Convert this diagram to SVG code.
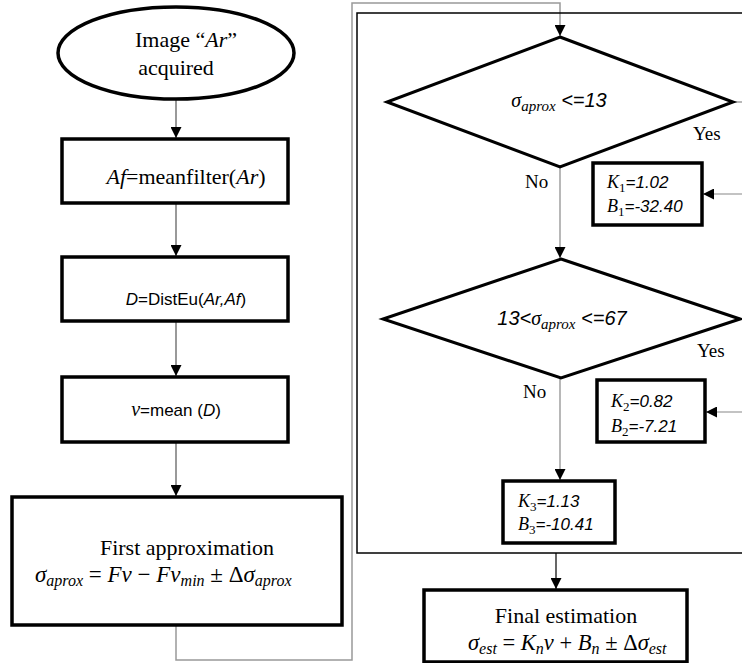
<svg xmlns="http://www.w3.org/2000/svg" width="742" height="663" viewBox="0 0 742 663">
<defs>
<marker id="ah" markerUnits="userSpaceOnUse" markerWidth="11" markerHeight="11" viewBox="0 0 10 10" refX="10" refY="5" orient="auto">
<path d="M0,0 L10,5 L0,10 z" fill="#000"/>
</marker>
</defs>
<style>
.node{fill:#fff;stroke:#000;stroke-width:3.5}
.dia{fill:#fff;stroke:#000;stroke-width:3}
.serif{font-family:"Liberation Serif","Times New Roman",serif;fill:#000}
.sans{font-family:"Liberation Sans",Arial,sans-serif;fill:#000}
.math{font-family:"Liberation Serif","Times New Roman",serif;font-style:italic;fill:#000}
.c1{fill:none;stroke:#555;stroke-width:1.2}
.c2{fill:none;stroke:#999;stroke-width:1.5}
.c3{fill:none;stroke:#888;stroke-width:1.2}
.c4{fill:none;stroke:#000;stroke-width:1.2}
</style>
<rect width="742" height="663" fill="#fff"/>

<g id="connectors">
<path class="c1" d="M176,100 V138" marker-end="url(#ah)"/>
<path class="c1" d="M176,203 V256" marker-end="url(#ah)"/>
<path class="c1" d="M176,321 V376" marker-end="url(#ah)"/>
<path class="c1" d="M176,442 V496" marker-end="url(#ah)"/>
<path class="c2" d="M176,625 V660 H352 V3 H560 V36" marker-end="url(#ah)"/>
<path class="c3" d="M733,102 H742"/>
<path class="c3" d="M560,167 V258" marker-end="url(#ah)"/>
<path class="c3" d="M742,194 H703" marker-end="url(#ah)"/>
<path class="c3" d="M740,319 H742"/>
<path class="c3" d="M560,378 V480" marker-end="url(#ah)"/>
<path class="c3" d="M742,412 H706" marker-end="url(#ah)"/>
<path class="c4" d="M556,553 V589" marker-end="url(#ah)"/>
</g>

<g id="container">
<rect x="357" y="13" width="400" height="540" fill="none" stroke="#000" stroke-width="1.5"/>
</g>

<g id="start">
<ellipse cx="176" cy="53" rx="118" ry="46" class="node"/>
<text class="serif" font-size="22" x="186" y="47" text-anchor="middle">Image “<tspan font-style="italic">Ar</tspan>”</text>
<text class="serif" font-size="22" x="176" y="75" text-anchor="middle">acquired</text>
</g>

<g id="meanfilter">
<rect x="62" y="139" width="226" height="64" class="node"/>
<text class="serif" font-size="22" x="186" y="184" text-anchor="middle"><tspan font-style="italic">Af</tspan>=meanfilter(<tspan font-style="italic">Ar</tspan>)</text>
</g>

<g id="disteu">
<rect x="62" y="257" width="226" height="64" class="node"/>
<text class="sans" font-size="17" x="186" y="305" text-anchor="middle"><tspan font-style="italic">D</tspan>=DistEu(<tspan font-style="italic">Ar,Af</tspan>)</text>
</g>

<g id="mean">
<rect x="62" y="377" width="226" height="65" class="node"/>
<text class="sans" font-size="17" x="176" y="416" text-anchor="middle"><tspan class="math" font-size="20">v</tspan>=mean (<tspan font-style="italic">D</tspan>)</text>
</g>

<g id="first-approx">
<rect x="12" y="497" width="330" height="128" class="node"/>
<text class="serif" font-size="22" x="187" y="555" text-anchor="middle">First approximation</text>
<text class="math" font-size="23" x="35" y="582">σ<tspan font-size="16" dy="4">aprox</tspan><tspan dy="-4" font-style="normal"> = </tspan>Fv<tspan font-style="normal"> − </tspan>Fv<tspan font-size="16" dy="4">min</tspan><tspan dy="-4" font-style="normal"> ± Δ</tspan>σ<tspan font-size="16" dy="4">aprox</tspan></text>
</g>

<g id="decision1">
<polygon class="dia" points="560,37 733,102 560,167 387,102"/>
<text class="math" font-size="20" x="559" y="107" text-anchor="middle">σ<tspan font-size="15" dy="4">aprox</tspan><tspan dy="-4" class="sans" font-size="20"> &lt;=13</tspan></text>
<text class="serif" font-size="19" x="693" y="140">Yes</text>
<text class="serif" font-size="19" x="525" y="188">No</text>
</g>

<g id="k1">
<rect x="593" y="163" width="109" height="62" class="node"/>
<text class="math" font-size="18" x="607" y="188">K<tspan font-size="13" dy="4" font-style="normal">1</tspan><tspan dy="-4" class="sans" font-size="17">=1.02</tspan></text>
<text class="math" font-size="18" x="607" y="212">B<tspan font-size="13" dy="4" font-style="normal">1</tspan><tspan dy="-4" class="sans" font-size="17">=-32.40</tspan></text>
</g>

<g id="decision2">
<polygon class="dia" points="561,259 740,319 561,378 383,319"/>
<text class="math" font-size="20" x="562" y="325" text-anchor="middle"><tspan class="sans" font-size="20">13&lt;</tspan>σ<tspan font-size="15" dy="4">aprox</tspan><tspan dy="-4" class="sans" font-size="20"> &lt;=67</tspan></text>
<text class="serif" font-size="19" x="697" y="357">Yes</text>
<text class="serif" font-size="19" x="523" y="398">No</text>
</g>

<g id="k2">
<rect x="597" y="380" width="108" height="62" class="node"/>
<text class="math" font-size="18" x="611" y="407">K<tspan font-size="13" dy="4" font-style="normal">2</tspan><tspan dy="-4" class="sans" font-size="17">=0.82</tspan></text>
<text class="math" font-size="18" x="611" y="432">B<tspan font-size="13" dy="4" font-style="normal">2</tspan><tspan dy="-4" class="sans" font-size="17">=-7.21</tspan></text>
</g>

<g id="k3">
<rect x="503" y="481" width="112" height="62" class="node"/>
<text class="math" font-size="18" x="518" y="507">K<tspan font-size="13" dy="4" font-style="normal">3</tspan><tspan dy="-4" class="sans" font-size="17">=1.13</tspan></text>
<text class="math" font-size="18" x="518" y="530">B<tspan font-size="13" dy="4" font-style="normal">3</tspan><tspan dy="-4" class="sans" font-size="17">=-10.41</tspan></text>
</g>

<g id="final">
<rect x="424" y="590" width="263" height="72" class="node"/>
<text class="serif" font-size="22" x="566" y="623" text-anchor="middle">Final estimation</text>
<text class="math" font-size="22.5" x="468" y="650">σ<tspan font-size="16" dy="4">est</tspan><tspan dy="-4" font-style="normal"> = </tspan>K<tspan font-size="16" dy="4">n</tspan><tspan dy="-4">v</tspan><tspan font-style="normal"> + </tspan>B<tspan font-size="16" dy="4">n</tspan><tspan dy="-4" font-style="normal"> ± Δ</tspan>σ<tspan font-size="16" dy="4">est</tspan></text>
</g>
</svg>
